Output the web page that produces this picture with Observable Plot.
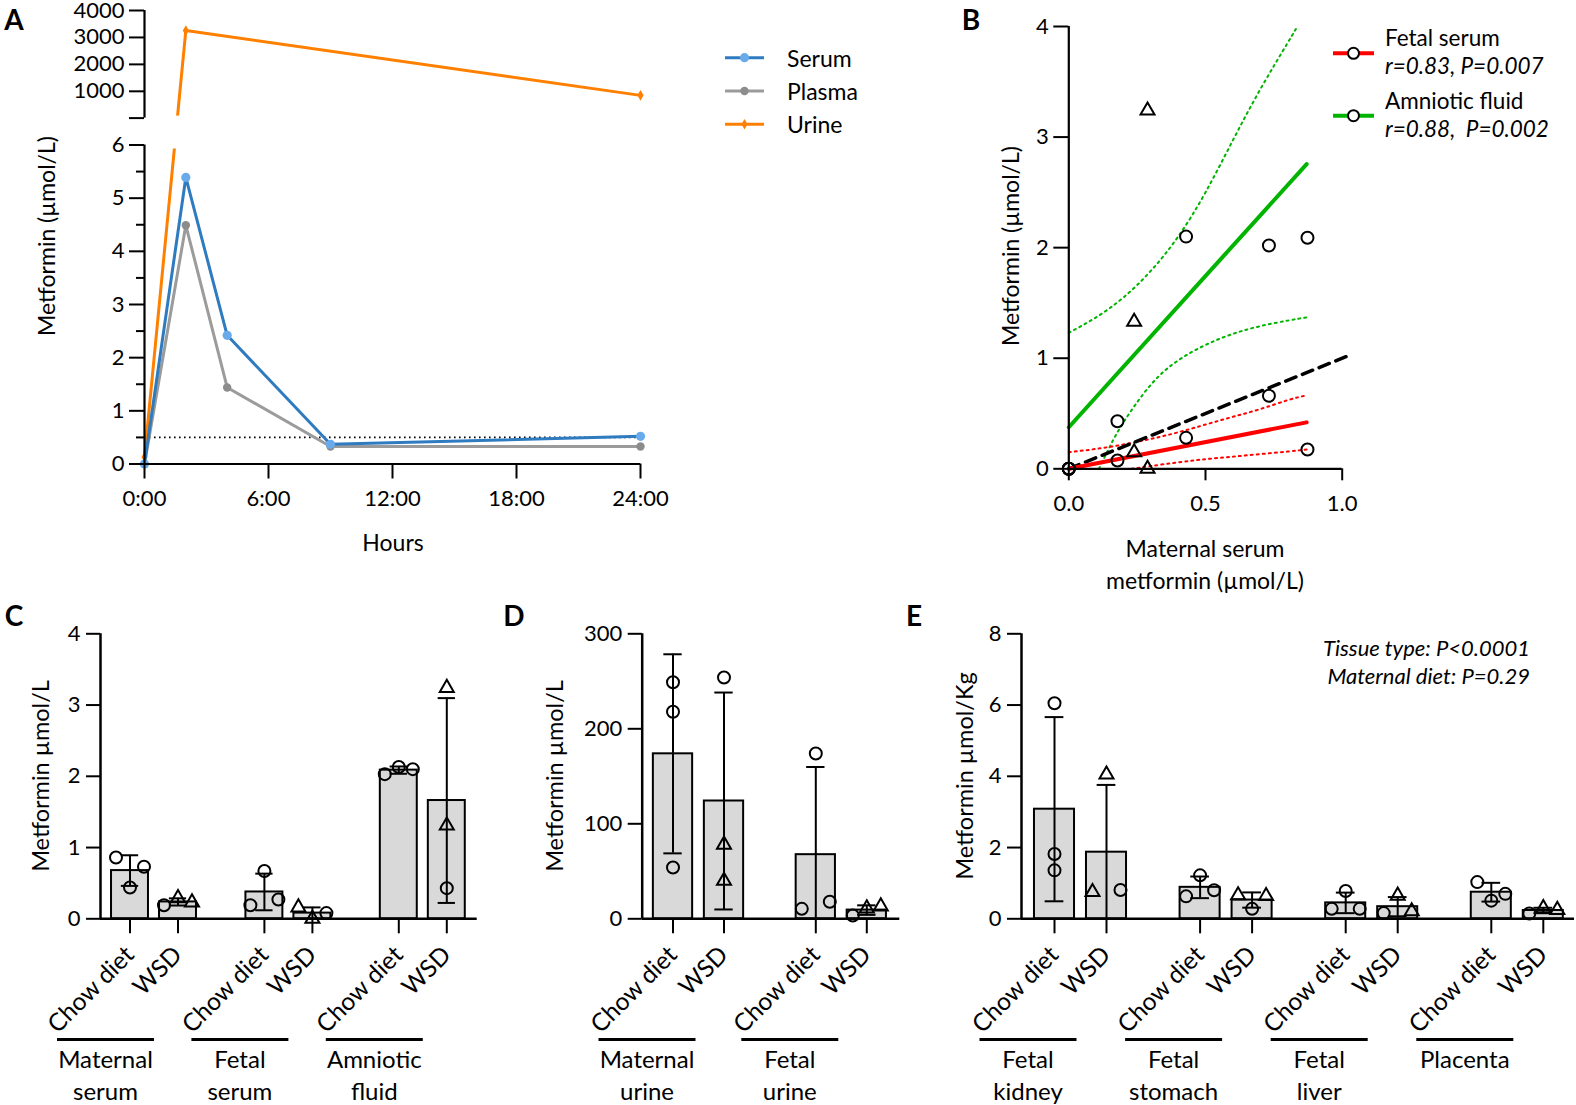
<!DOCTYPE html>
<html>
<head>
<meta charset="utf-8">
<script src="https://cdn.jsdelivr.net/npm/d3@7"></script>
<script src="https://cdn.jsdelivr.net/npm/@observablehq/plot@0.6"></script>
<style>
  html, body { margin: 0; padding: 0; background: #fff; }
  #root { position: relative; width: 1576px; height: 1105px; overflow: hidden; background: #fff;
          font-family: Lato, "Open Sans", sans-serif; color: #000; }
  #root svg { overflow: visible; }
  .t { position: absolute; white-space: pre; line-height: 1; color: #000; }
</style>
</head>
<body>
<div id="root"></div>
<script>
// ================= DATA =================
// Panel A – metformin time course (µmol/L)
const hoursA = [0, 2, 4, 9, 24];
const serumA = [0, 5.39, 2.42, 0.37, 0.52];
const plasmaA = [0, 4.49, 1.44, 0.33, 0.33];
const urineHoursA = [0, 2, 24];
const urineA = [0.13, 3260, 850];
const lloqA = 0.5;
const timeTicksA = [0, 6, 12, 18, 24];
const lowerTicksA = [0, 1, 2, 3, 4, 5, 6];
const minorTicksA = [0.5, 1.5, 2.5, 3.5, 4.5, 5.5];
const upperTicksA = [1000, 2000, 3000, 4000];
const seriesNamesA = ["Serum", "Plasma", "Urine"];

// Panel B – fetal vs maternal metformin
const maternalSerumB = [0.873, 0.732, 0.429, 0.178, 0.239, 0.288, 0, 0];
const fetalSerumB    = [0.175, 0.66, 0.28, 0.075, 0.15, 0.0, 0, 0];
const amnioticB      = [2.09, 2.02, 2.10, 0.43, 1.33, 3.24, 0, 0];
const shapeB         = ["o", "o", "o", "o", "t", "t", "o", "o"];
const fitXB = [0, 0.87];
const fetalFitB = [0, 0.42];
const amnioticFitB = [0.376, 2.756];
const identityXB = [0, 1.02];
const greenUpperX = [0, 0.1, 0.2, 0.3, 0.4, 0.5, 0.6, 0.7, 0.8, 0.836];
const greenUpperY = [1.23, 1.37, 1.55, 1.79, 2.10, 2.50, 2.97, 3.43, 3.85, 4.0];
const greenLowerX = [0.11, 0.15, 0.2, 0.3, 0.4, 0.5, 0.6, 0.7, 0.8, 0.87];
const greenLowerY = [0, 0.2, 0.42, 0.76, 0.98, 1.12, 1.22, 1.29, 1.34, 1.37];
const redUpperX = [0, 0.1, 0.2, 0.3, 0.4, 0.5, 0.6, 0.7, 0.8, 0.87];
const redUpperY = [0.15, 0.18, 0.22, 0.27, 0.33, 0.40, 0.47, 0.54, 0.62, 0.665];
const redLowerX = [0.23, 0.3, 0.4, 0.5, 0.6, 0.7, 0.8, 0.87];
const redLowerY = [0, 0.025, 0.058, 0.087, 0.11, 0.133, 0.156, 0.175];
const legendB = [["Fetal serum", "r=0.83, P=0.007"], ["Amniotic fluid", "r=0.88,  P=0.002"]];

// Bar panels (points listed left→right as plotted)
const dietLabels = ["Chow diet", "WSD"];

const groupsC = ["Maternal\nserum", "Fetal\nserum", "Amniotic\nfluid"];
const chowC = [[0.86, 0.44, 0.73], [0.19, 0.67, 0.27], [2.03, 2.13, 2.10]];
const wsdC  = [[0.19, 0.29, 0.23], [0.16, 0.00, 0.08], [3.24, 1.31, 0.43]];
const wsdShapeC = [["o", "t", "t"], ["t", "t", "o"], ["t", "t", "o"]];
const ticksC = [0, 1, 2, 3, 4];

const groupsD = ["Maternal\nurine", "Fetal\nurine"];
const chowD = [[249, 218, 54], [10.5, 174, 18]];
const wsdD  = [[254, 78, 40], [3.5, 11, 13]];
const wsdShapeD = [["o", "t", "t"], ["o", "t", "t"]];
const ticksD = [0, 100, 200, 300];

const groupsE = ["Fetal\nkidney", "Fetal\nstomach", "Fetal\nliver", "Placenta"];
const chowE = [[6.05, 1.82, 1.36], [0.63, 1.22, 0.80], [0.28, 0.78, 0.28], [1.03, 0.51, 0.70]];
const wsdE  = [[0.75, 4.05, 0.81], [0.66, 0.28, 0.64], [0.16, 0.65, 0.21], [0.15, 0.30, 0.25]];
const wsdShapeE = [["t", "t", "o"], ["t", "o", "t"], ["o", "t", "t"], ["o", "t", "t"]];
const ticksE = [0, 2, 4, 6, 8];
const statsE = ["Tissue type: P<0.0001", "Maternal diet: P=0.29"];

// ================= HELPERS =================
const root = document.getElementById("root");
const FONT = "Lato, 'Open Sans', sans-serif";
const STYLE = {fontFamily: FONT, fontSize: "22px", color: "black", background: "transparent", overflow: "visible"};
const BLUE = "#2e7bc0", BLUE_PT = "#68aaea", GREY = "#9b9b9b", GREY_PT = "#8c8c8c", ORANGE = "#ff8000";
const RED = "#ff0000", GREEN = "#00b400";

function txt(x, y, s, o = {}) {
  const d = document.createElement("div");
  d.className = "t";
  d.textContent = s;
  d.style.left = x + "px";
  d.style.top = y + "px";
  d.style.fontSize = (o.size || 22) + "px";
  if (o.italic) d.style.fontStyle = "italic";
  if (o.bold) d.style.fontWeight = "bold";
  const ax = o.anchor === "start" ? "0" : o.anchor === "end" ? "-100%" : "-50%";
  d.style.transform = `translate(${ax}, -50%)` + (o.rotate ? ` rotate(${o.rotate}deg)` : "");
  root.appendChild(d);
}
function put(el, left, top) {
  el.style.position = "absolute";
  el.style.left = left + "px";
  el.style.top = top + "px";
  root.appendChild(el);
}
const pairs = (xs, ys) => xs.map((x, i) => ({x, y: ys[i]}));

// ================= PANEL A =================
{
  const serum = pairs(hoursA, serumA), plasma = pairs(hoursA, plasmaA), urine = pairs(urineHoursA, urineA);
  const brk = [6, 6.001];
  const W = 700, H = 560, axL = 144, axR = 640, y0 = 463.5, yT = 10;
  const chart = Plot.plot({
    width: W, height: H,
    marginLeft: axL, marginRight: W - axR, marginTop: yT, marginBottom: H - y0,
    x: {domain: [0, 24], range: [axL, axR], axis: null},
    y: {type: "linear", domain: [0, brk[0], brk[1], 4000], range: [y0, 144.5, 117.6, yT], axis: null},
    style: STYLE,
    marks: [
      Plot.ruleY([lloqA], {x1: 0, x2: 24, stroke: "black", strokeWidth: 1.6, strokeDasharray: "1.6,3.4"}),
      Plot.line(urine, {x: "x", y: "y", stroke: ORANGE, strokeWidth: 3}),
      Plot.rect([0], {x1: 0.6, x2: 3, y1: brk[0], y2: brk[1], fill: "white", insetTop: -2, insetBottom: -4}),
      Plot.dot(urine, {x: "x", y: "y", symbol: "diamond", r: 3.2, fill: ORANGE}),
      Plot.line(plasma, {x: "x", y: "y", stroke: GREY, strokeWidth: 3}),
      Plot.dot(plasma, {x: "x", y: "y", r: 4.2, fill: GREY_PT}),
      Plot.line(serum, {x: "x", y: "y", stroke: BLUE, strokeWidth: 3}),
      Plot.dot(serum, {x: "x", y: "y", r: 4.6, fill: BLUE_PT}),
      Plot.ruleX([0], {y1: 0, y2: brk[0], stroke: "black", strokeWidth: 2.2}),
      Plot.ruleX([0], {y1: brk[1], y2: 4000, stroke: "black", strokeWidth: 2.2}),
      Plot.ruleY([0], {x1: 0, x2: 24, stroke: "black", strokeWidth: 2.2}),
      Plot.axisY(lowerTicksA, {tickSize: 15, tickPadding: 5, tickFormat: d => String(d), label: null, strokeWidth: 2}),
      Plot.axisY(minorTicksA, {tickSize: 8, tickFormat: () => "", label: null, strokeWidth: 2}),
      Plot.axisY(upperTicksA, {tickSize: 15, tickPadding: 5, tickFormat: d => String(d), label: null, strokeWidth: 2}),
      Plot.axisY([brk[1]], {tickSize: 15, tickFormat: () => "", label: null, strokeWidth: 2}),
      Plot.axisX(timeTicksA, {tickSize: 15, tickPadding: 11, tickFormat: h => h + ":00", label: null, strokeWidth: 2})
    ]
  });
  put(chart, 0, 0);
  txt(46, 236, "Metformin (µmol/L)", {size: 23, rotate: -90});
  txt(393, 542, "Hours", {size: 23});
  txt(14, 19, "A", {size: 28, bold: true});
}

// ================= PANEL B =================
{
  const left = 940, top = 0, width = 636, height = 600;
  const axL = 1068.3, axR = 1341.7, y0 = 468.3, yT = 26;
  const fetal = maternalSerumB.map((x, i) => ({x, y: fetalSerumB[i], s: shapeB[i]}));
  const amn = maternalSerumB.map((x, i) => ({x, y: amnioticB[i], s: shapeB[i]}));
  const pts = fetal.concat(amn);
  const dotted = {strokeWidth: 2, strokeDasharray: "2,4", curve: "natural"};
  const chart = Plot.plot({
    width, height,
    marginLeft: axL - left, marginRight: left + width - axR, marginTop: yT - top, marginBottom: top + height - y0,
    x: {domain: [0, 1], axis: null},
    y: {domain: [0, 4], axis: null},
    style: STYLE,
    marks: [
      Plot.line(pairs(greenUpperX, greenUpperY), {x: "x", y: "y", stroke: GREEN, ...dotted}),
      Plot.line(pairs(greenLowerX, greenLowerY), {x: "x", y: "y", stroke: GREEN, ...dotted}),
      Plot.line(pairs(redUpperX, redUpperY), {x: "x", y: "y", stroke: RED, ...dotted}),
      Plot.line(pairs(redLowerX, redLowerY), {x: "x", y: "y", stroke: RED, ...dotted}),
      Plot.line(pairs(identityXB, identityXB), {x: "x", y: "y", stroke: "black", strokeWidth: 3.5, strokeDasharray: "11,7"}),
      Plot.line(pairs(fitXB, amnioticFitB), {x: "x", y: "y", stroke: GREEN, strokeWidth: 4}),
      Plot.line(pairs(fitXB, fetalFitB), {x: "x", y: "y", stroke: RED, strokeWidth: 4}),
      Plot.dot(pts.filter(d => d.s === "o"), {x: "x", y: "y", r: 6, stroke: "black", strokeWidth: 2, fill: "none"}),
      Plot.dot(pts.filter(d => d.s === "t"), {x: "x", y: "y", symbol: "triangle", r: 5.2, stroke: "black", strokeWidth: 2, fill: "none"}),
      Plot.ruleX([0], {stroke: "black", strokeWidth: 2.2}),
      Plot.ruleY([0], {stroke: "black", strokeWidth: 2.2}),
      Plot.axisY([0, 1, 2, 3, 4], {tickSize: 15, tickPadding: 5, tickFormat: d => String(d), label: null, strokeWidth: 2}),
      Plot.axisX([0, 0.5, 1], {tickSize: 12, tickPadding: 15, tickFormat: d3.format(".1f"), label: null, strokeWidth: 2})
    ]
  });
  put(chart, left, top);
  txt(1010, 246, "Metformin (µmol/L)", {size: 23, rotate: -90});
  txt(1205, 548, "Maternal serum", {size: 23});
  txt(1205, 580, "metformin (µmol/L)", {size: 23});
  txt(971, 19, "B", {size: 28, bold: true});
  legendB.forEach((l, i) => {
    txt(1385, 38 + i * 63, l[0], {size: 22.5, anchor: "start"});
    txt(1385, 66 + i * 63, l[1], {size: 22.5, anchor: "start", italic: true});
  });
}

// ================= BAR PANELS =================
const overlayLines = [];
function barPanel(c) {
  const G = 2.8, BW = 0.77, CAP = 0.36, JIT = 14 / c.unit;
  const kpx = (c.y0 - c.yTop) / (c.yDomain[1] - c.yDomain[0]);
  const bars = [], pts = [], caps = [], tickPos = [], tickText = [];
  c.groups.forEach((g, gi) => {
    [c.chow[gi], c.wsd[gi]].forEach((vals, di) => {
      const p = gi * G + di;
      const m = d3.mean(vals), s = d3.deviation(vals);
      bars.push({p, m, lo: Math.max(0, m - s), hi: m + s});
      caps.push({p, y: m + s});
      if (m - s > 0) caps.push({p, y: m - s});
      let crowded = false;
      for (let i = 0; i < vals.length; i++)
        for (let j = i + 1; j < vals.length; j++)
          if (Math.abs(vals[i] - vals[j]) * kpx < 14) crowded = true;
      vals.forEach((v, i) => pts.push({
        x: p + (crowded ? (i - (vals.length - 1) / 2) * JIT : 0),
        y: v,
        s: di === 0 ? "o" : c.wsdShape[gi][i]
      }));
      tickPos.push(p); tickText.push(dietLabels[di]);
    });
  });
  const fmt = new Map(tickPos.map((p, i) => [p, tickText[i]]));
  const xmin = (c.axL - c.first) / c.unit, xmax = (c.axR - c.first) / c.unit;
  const chart = Plot.plot({
    width: c.width, height: c.height,
    marginLeft: c.axL - c.left, marginRight: c.left + c.width - c.axR,
    marginTop: c.yTop - c.top, marginBottom: c.top + c.height - c.y0,
    x: {domain: [xmin, xmax], axis: null},
    y: {domain: c.yDomain, axis: null},
    style: STYLE,
    marks: [
      Plot.rect(bars, {x1: d => d.p - BW / 2, x2: d => d.p + BW / 2, y1: 0, y2: "m", fill: "#d9d9d9", stroke: "black", strokeWidth: 2}),
      Plot.ruleX(bars, {x: "p", y1: "lo", y2: "hi", stroke: "black", strokeWidth: 2}),
      Plot.ruleY(caps, {y: "y", x1: d => d.p - CAP / 2, x2: d => d.p + CAP / 2, stroke: "black", strokeWidth: 2}),
      Plot.dot(pts.filter(d => d.s === "o"), {x: "x", y: "y", r: 6, stroke: "black", strokeWidth: 2, fill: "none"}),
      Plot.dot(pts.filter(d => d.s === "t"), {x: "x", y: "y", symbol: "triangle", r: 5.2, stroke: "black", strokeWidth: 2, fill: "none"}),
      Plot.ruleY([0], {stroke: "black", strokeWidth: 2.5}),
      Plot.ruleX([xmin], {stroke: "black", strokeWidth: 2.5}),
      Plot.axisY(c.yTicks, {tickSize: 14, tickPadding: 6, tickFormat: d => String(d), label: null, strokeWidth: 2}),
      Plot.axisX(tickPos, {tickSize: 15, tickPadding: 17, tickRotate: -45, tickFormat: p => fmt.get(p), label: null, strokeWidth: 2, fontSize: 24.5})
    ]
  });
  put(chart, c.left, c.top);
  const xs = chart.scale("x");
  c.groups.forEach((g, gi) => {
    const cx = c.left + xs.apply(gi * G - 0.5);
    overlayLines.push([cx - 48.5, cx + 48.5, 1039.5]);
    const lines = g.split("\n");
    lines.forEach((l, li) => txt(cx, 1059 + li * 32, l, {size: 24}));
  });
  txt(c.titleX, 776, c.title, {size: 23.5, rotate: -90});
  txt(c.letterX, 615, c.letter, {size: 28, bold: true});
  return chart;
}

barPanel({left: 0, top: 600, width: 500, height: 505, axL: 100, axR: 476.7, y0: 918.3, yTop: 633.3,
  unit: 48, first: 129.5, yDomain: [0, 4], yTicks: ticksC,
  groups: groupsC, chow: chowC, wsd: wsdC, wsdShape: wsdShapeC,
  title: "Metformin µmol/L", titleX: 41, letter: "C", letterX: 14});

barPanel({left: 500, top: 600, width: 420, height: 505, axL: 641.7, axR: 899.3, y0: 918.3, yTop: 633.3,
  unit: 51, first: 672.5, yDomain: [0, 300], yTicks: ticksD,
  groups: groupsD, chow: chowD, wsd: wsdD, wsdShape: wsdShapeD,
  title: "Metformin µmol/L", titleX: 555, letter: "D", letterX: 514});

barPanel({left: 920, top: 600, width: 656, height: 505, axL: 1021, axR: 1574, y0: 918.3, yTop: 633.3,
  unit: 52, first: 1054, yDomain: [0, 8], yTicks: ticksE,
  groups: groupsE, chow: chowE, wsd: wsdE, wsdShape: wsdShapeE,
  title: "Metformin µmol/Kg", titleX: 965, letter: "E", letterX: 914});

statsE.forEach((s, i) => txt(1530, 648 + i * 28, s, {size: 22, italic: true, anchor: "end"}));

// ================= OVERLAY (legends, group rules) =================
{
  const svg = d3.create("svg").attr("width", 1576).attr("height", 1105)
    .style("position", "absolute").style("left", "0px").style("top", "0px").style("pointer-events", "none");
  overlayLines.forEach(([x1, x2, y]) => svg.append("line").attr("x1", x1).attr("x2", x2).attr("y1", y).attr("y2", y)
    .attr("stroke", "black").attr("stroke-width", 2.8));
  // Legend A
  const legA = [[BLUE, BLUE_PT, "circle", 4.6], [GREY, GREY_PT, "circle", 4.2], [ORANGE, ORANGE, "diamond", 3.2]];
  legA.forEach(([lc, pc, sym, r], i) => {
    const y = 57.7 + i * 33.3;
    svg.append("line").attr("x1", 725).attr("x2", 764).attr("y1", y).attr("y2", y).attr("stroke", lc).attr("stroke-width", 3);
    const shape = sym === "circle" ? d3.symbolCircle : d3.symbolDiamond;
    svg.append("path").attr("d", d3.symbol(shape, r * r * Math.PI)()).attr("transform", `translate(744.5,${y})`).attr("fill", pc);
  });
  // Legend B
  [RED, GREEN].forEach((col, i) => {
    const y = 53.3 + i * 62.4;
    svg.append("line").attr("x1", 1333).attr("x2", 1374).attr("y1", y).attr("y2", y).attr("stroke", col).attr("stroke-width", 4);
    svg.append("circle").attr("cx", 1353.5).attr("cy", y).attr("r", 5.5).attr("fill", "white").attr("stroke", "black").attr("stroke-width", 2);
  });
  root.appendChild(svg.node());
}
seriesNamesA.forEach((n, i) => txt(787, 57.7 + i * 33.3, n, {size: 23, anchor: "start"}));
</script>
</body>
</html>
